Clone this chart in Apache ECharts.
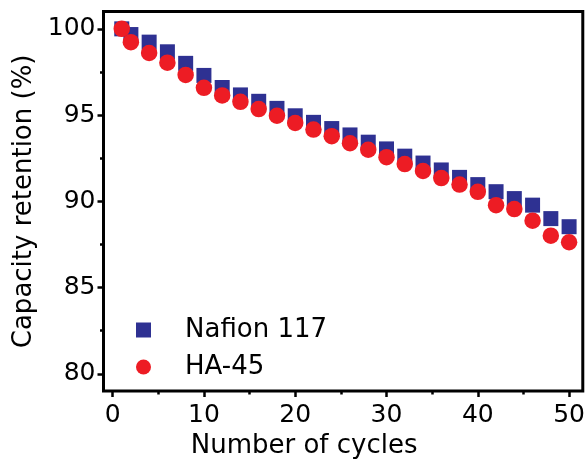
<!DOCTYPE html>
<html>
<head>
<meta charset="utf-8">
<script src="https://cdn.jsdelivr.net/npm/echarts@6/dist/echarts.min.js"></script>
<style>html,body{margin:0;padding:0;background:#fff;}#c{width:588px;height:464px;}</style>
</head>
<body>
<div id="c"></div>
<script>
const cycles = [1,2,4,6,8,10,12,14,16,18,20,22,24,26,28,30,32,34,36,38,40,42,44,46,48,50];
const nafion117 = [100,99.67,99.23,98.67,98.0,97.3,96.6,96.17,95.8,95.39,94.96,94.58,94.22,93.85,93.43,93.04,92.62,92.22,91.82,91.39,90.97,90.56,90.16,89.78,89.0,88.53];
const ha45 = [100,99.23,98.6,98.04,97.33,96.58,96.14,95.77,95.35,94.96,94.54,94.16,93.78,93.37,92.99,92.56,92.16,91.76,91.35,90.97,90.55,89.78,89.55,88.88,88.01,87.63];
const xMajorTicks = [0,10,20,30,40,50];
const xMinorTicks = [5,15,25,35,45];
const yMajorTicks = [80,85,90,95,100];
const yMinorTicks = [82.5,87.5,92.5,97.5];
const seriesNames = ['Nafion 117','HA-45'];

const FONT = 'DejaVu Sans';
const chart = echarts.init(document.getElementById('c'), null, {renderer:'canvas'});
const pair = (ys) => cycles.map((x,i)=>[x, ys[i]]);
const hidden = {show:false};
chart.setOption({
  animation:false,
  backgroundColor:'#fff',
  grid:{left:103.5,right:3.7,top:11.6,bottom:70.7,show:true,borderColor:'#000',borderWidth:3,backgroundColor:'transparent'},
  legend:{
    orient:'vertical', left:131, top:312, itemWidth:15, itemHeight:15, itemGap:11,
    data:[{name:seriesNames[0],icon:'rect'},{name:seriesNames[1],icon:'circle'}],
    textStyle:{fontFamily:FONT,fontSize:26,color:'#000',lineHeight:26,padding:[0,0,0,29]}
  },
  xAxis:[{
    type:'value', min:-1, max:51.5, position:'bottom',
    name:'Number of cycles', nameLocation:'middle', nameGap:30,
    nameTextStyle:{fontFamily:FONT,fontSize:26,color:'#000',padding:[0,78,0,0]},
    axisLine:{show:false,onZero:false},
    axisTick:{show:true,inside:false,length:6,customValues:xMajorTicks,lineStyle:{color:'#000',width:2.5}},
    axisLabel:{show:true,customValues:xMajorTicks,margin:12,fontFamily:FONT,fontSize:25,color:'#000'},
    splitLine:hidden
  },{
    type:'value', min:-1, max:51.5, position:'bottom',
    axisLine:{show:false,onZero:false},
    axisTick:{show:true,inside:false,length:3.5,customValues:xMinorTicks,lineStyle:{color:'#000',width:2.5}},
    axisLabel:hidden, splitLine:hidden
  }],
  yAxis:[{
    type:'value', min:79, max:101, position:'left',
    name:'Capacity retention (%)', nameLocation:'middle', nameGap:60, nameRotate:90,
    nameTextStyle:{fontFamily:FONT,fontSize:26,color:'#000'},
    axisLine:{show:false,onZero:false},
    axisTick:{show:true,inside:false,length:6,customValues:yMajorTicks,lineStyle:{color:'#000',width:2.5}},
    axisLabel:{show:true,customValues:yMajorTicks,margin:8,fontFamily:FONT,fontSize:25,color:'#000'},
    splitLine:hidden
  },{
    type:'value', min:79, max:101, position:'left',
    axisLine:{show:false,onZero:false},
    axisTick:{show:true,inside:false,length:3.5,customValues:yMinorTicks,lineStyle:{color:'#000',width:2.5}},
    axisLabel:hidden, splitLine:hidden
  }],
  series:[
    {name:seriesNames[0], type:'scatter', symbol:'rect', symbolSize:15, data:pair(nafion117),
     itemStyle:{color:'#2E3192',opacity:1}},
    {name:seriesNames[1], type:'scatter', symbol:'circle', symbolSize:16.5, data:pair(ha45),
     itemStyle:{color:'#ED1C24',opacity:1}}
  ]
});
</script>
</body>
</html>
